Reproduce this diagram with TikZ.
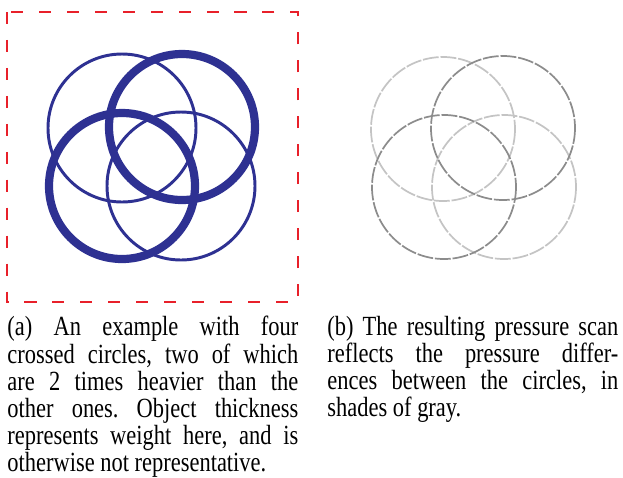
\documentclass[tikz,border=0pt]{standalone}
\usepackage{fontspec}
\setmainfont{Liberation Serif}[FakeStretch=0.81]
\usepackage{tikz}
\definecolor{inkBlue}{HTML}{2E3192}
\definecolor{frameRed}{HTML}{E8202A}
\definecolor{scanLight}{HTML}{C4C4C4}
\definecolor{scanDark}{HTML}{8C8C8C}
\tikzset{
  frame/.style={draw=frameRed, line width=1.3pt, dash pattern=on 5.3pt off 7pt},
  heavy/.style={draw=inkBlue, line width=3.6pt},
  light/.style={draw=inkBlue, line width=1.3pt},
  scanlo/.style={draw=scanLight, line width=0.75pt, dash pattern=on 7pt off 0.8pt},
  scanhi/.style={draw=scanDark, line width=0.75pt, dash pattern=on 7pt off 0.8pt},
  caption/.style={inner sep=0pt, anchor=north west, text width=128pt, align=justify,
                  font=\fontsize{12.2}{11.9}\selectfont\frenchspacing}
}
\begin{document}
\begin{tikzpicture}[x=0.44pt, y=-0.44pt]
\fill[white] (0,0) rectangle (623,477);
\useasboundingbox (0,0) rectangle (623,477);

% (a) weighted circles
\draw[frame] (7,12) rectangle (298,302);
\draw[light] (122,128) circle[radius=74];
\draw[light] (181,186) circle[radius=74];
\draw[heavy] (182,127) circle[radius=73];
\draw[heavy] (122,186) circle[radius=73];

% (b) pressure scan
\draw[scanlo] (443,129) circle[radius=72];
\draw[scanlo] (504,187) circle[radius=72];
\draw[scanhi] (503,128) circle[radius=72];
\draw[scanhi] (444,187) circle[radius=72];

\node[caption] (capA) at (7,316) {(a) An example with four\linebreak crossed circles, two of which\linebreak are 2 times heavier than the\linebreak other ones. Object thickness\linebreak represents weight here, and is\linebreak otherwise not representative.};
\node[caption] (capB) at (327,316) {(b) The resulting pressure scan\linebreak reflects the pressure differ-\linebreak ences between the circles, in\linebreak shades of gray.};
\end{tikzpicture}
\end{document}
